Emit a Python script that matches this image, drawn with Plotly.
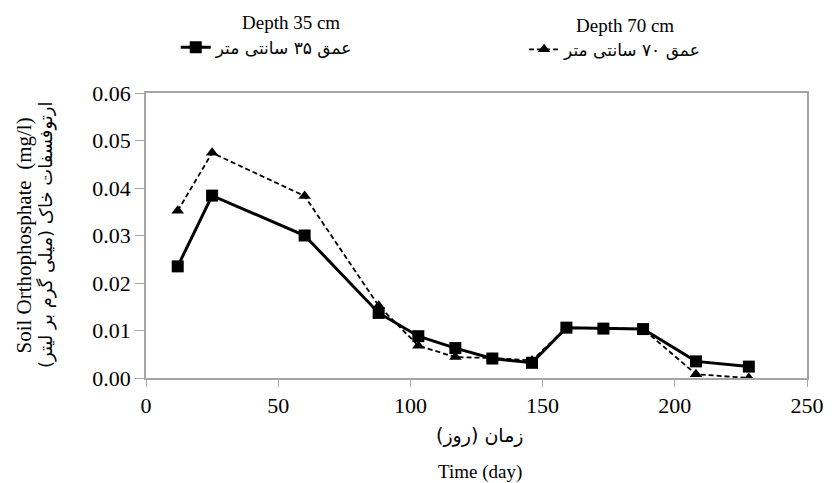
import plotly.graph_objects as go

days = [12, 25, 60, 88, 103, 117, 131, 146, 159, 173, 188, 208, 228]
depth35 = [0.0235, 0.0384, 0.0300, 0.0137, 0.0088, 0.0063, 0.0041, 0.0032, 0.0106, 0.0104, 0.0103, 0.0035, 0.0024]
depth70 = [0.0352, 0.0474, 0.0383, 0.0152, 0.0068, 0.0044, 0.0042, 0.0037, 0.0106, 0.0104, 0.0103, 0.0008, 0.0000]
name35_fa = "عمق ۳۵ سانتی متر"
name70_fa = "عمق ۷۰ سانتی متر"
name35_en = "Depth 35 cm"
name70_en = "Depth 70 cm"
x_ticks = [0, 50, 100, 150, 200, 250]
y_ticks = [0.00, 0.01, 0.02, 0.03, 0.04, 0.05, 0.06]

SERIF = "Liberation Serif"
FA = "DejaVu Sans"
GREY = "#a6a6a6"

fig = go.Figure()
fig.add_trace(go.Scatter(
    x=days, y=depth70, name=name70_fa, mode="lines+markers",
    line=dict(color="black", width=1.8, dash="5px,3px"),
    marker=dict(symbol="triangle-up", size=11, color="black"),
    legend="legend2"))
fig.add_trace(go.Scatter(
    x=days, y=depth35, name=name35_fa, mode="lines+markers",
    line=dict(color="black", width=3),
    marker=dict(symbol="square", size=12, color="black"),
    legend="legend"))

fig.update_layout(
    width=836, height=483,
    margin=dict(l=146, r=19, t=93, b=105),
    paper_bgcolor="white", plot_bgcolor="white",
    font=dict(family=SERIF, color="black"),
    showlegend=True,
    legend=dict(x=0.045, y=1.222, xanchor="left", yanchor="top", orientation="h",
                font=dict(family=FA, size=17, color="black"), bgcolor="rgba(0,0,0,0)"),
    legend2=dict(x=0.572, y=1.215, xanchor="left", yanchor="top", orientation="h",
                 font=dict(family=FA, size=17, color="black"), bgcolor="rgba(0,0,0,0)"),
    xaxis=dict(range=[0, 250], tickvals=x_ticks, ticks="outside", ticklen=7,
               tickcolor=GREY, showline=True, linecolor=GREY, linewidth=1.5, mirror=True,
               showgrid=False, zeroline=False, tickfont=dict(size=22, family=SERIF)),
    yaxis=dict(range=[0, 0.06], tickvals=y_ticks, tickformat=".2f", ticks="outside", ticklen=9,
               tickcolor=GREY, showline=True, linecolor=GREY, linewidth=1.5, mirror=True,
               showgrid=False, zeroline=False, tickfont=dict(size=22, family=SERIF)),
)

annotations = [
    dict(text=name35_en, x=0.219, y=1.247, font=dict(size=19, family=SERIF)),
    dict(text=name70_en, x=0.724, y=1.236, font=dict(size=19, family=SERIF)),
    dict(text="زمان (روز)", x=0.505, y=-0.2, font=dict(size=19, family=FA)),
    dict(text="Time (day)", x=0.505, y=-0.33, font=dict(size=19, family=SERIF)),
    dict(text="Soil Orthophosphate  (mg/l)", x=-0.186, y=0.5, textangle=-90,
         font=dict(size=21, family=SERIF)),
    dict(text="ارتوفسفات خاک (میلی گرم بر لیتر)", x=-0.152, y=0.5, textangle=-90,
         font=dict(size=18, family=FA)),
]
for a in annotations:
    fig.add_annotation(xref="paper", yref="paper", showarrow=False,
                       xanchor="center", yanchor="middle", **a)

fig.write_html("out.html")
